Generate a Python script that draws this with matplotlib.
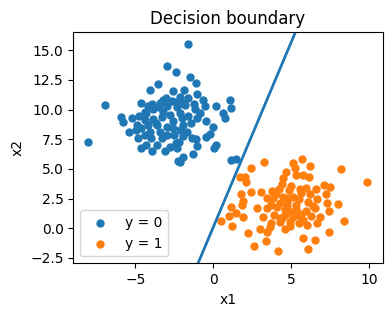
import numpy as np
import matplotlib
matplotlib.use('Agg')
import matplotlib.pyplot as plt

# class y = 0
x1_class0 = [-1.60, -2.95, -2.37, -1.48, -1.09, -3.53, -4.04, -2.57, -1.86, -1.07,
             -6.93, -4.62, -4.15, -3.25, -2.65, -2.14, -1.60, -0.64, -0.54, 0.17,
             1.09, 1.15, 0.62, 0.75, -5.92, -5.77, -5.19, -4.75, -4.30, -3.89,
             -3.46, -2.99, -2.35, -1.82, -1.18, -0.86, -3.85, -3.31, -2.78, -2.14,
             -1.60, -1.07, -0.49, 0.00, -5.39, -4.92, -4.62, -4.17, -3.63, -2.99,
             -2.57, -1.93, -2.14, -4.06, -3.42, -2.99, -2.52, -1.93, -4.81, -4.00,
             -1.39, -1.11, -0.47, -0.22, -8.01, -4.62, -4.32, -3.95, -3.10, -2.78,
             -2.40, -2.31, -1.07, 0.04, 0.21, -1.31, -1.93, -2.25, -2.10, 1.17,
             1.49, -3.63, -4.38, -3.42, -1.93, -3.20, -2.60, -4.40, -1.40, -3.00,
             -2.00, -3.70, -2.40, -4.90, -1.20, -3.90, -2.20, -3.30, -1.70, -4.40]
x2_class0 = [15.51, 13.68, 13.15, 12.73, 12.22, 12.17, 11.63, 11.58, 11.63, 11.32,
             10.37, 10.56, 10.31, 10.82, 10.76, 11.10, 10.96, 10.79, 10.28, 10.28,
             10.79, 10.14, 9.75, 9.27, 9.36, 8.93, 9.27, 9.47, 9.75, 10.03,
             10.20, 10.31, 10.20, 10.40, 10.03, 9.69, 9.19, 9.36, 9.55, 9.75,
             9.47, 9.27, 9.05, 8.57, 8.15, 8.29, 8.49, 8.71, 8.71, 8.57,
             8.43, 8.71, 8.29, 8.15, 8.15, 7.87, 7.87, 7.78, 7.59, 7.59,
             7.59, 7.50, 7.67, 7.95, 7.28, 6.80, 7.02, 6.55, 6.52, 6.88,
             7.16, 6.74, 6.94, 6.74, 7.02, 6.24, 6.04, 5.70, 5.62, 5.76,
             5.82, 7.02, 9.83, 10.54, 10.54, 9.80, 9.00, 9.10, 8.90, 11.00,
             9.30, 8.90, 10.60, 8.70, 10.50, 10.50, 7.30, 7.60, 8.10, 7.90]

# class y = 1
x1_class1 = [3.27, 2.42, 5.13, 5.71, 6.20, 5.24, 8.17, 9.87, 4.66, 5.34,
             5.77, 6.15, 1.71, 2.07, 2.10, 4.49, 4.38, 7.10, 7.48, 4.21,
             3.74, 3.04, 2.40, 1.80, 4.85, 5.56, 5.98, 6.58, 7.22, 1.88,
             1.82, 3.42, 3.85, 4.49, 5.13, 5.52, 6.09, 6.67, 7.27, 8.01,
             1.16, 1.45, 1.03, 0.47, 1.92, 1.22, 2.78, 3.42, 4.06, 4.74,
             5.34, 5.98, 6.52, 7.44, 3.21, 3.89, 4.60, 5.13, 5.60, 6.24,
             6.84, 8.38, 3.68, 4.28, 4.92, 5.47, 6.03, 6.67, 2.99, 3.63,
             4.60, 3.42, 2.20, 7.44, 5.77, 6.52, 2.63, 3.38, 6.09, 4.17,
             4.81, 4.28, 5.02, 5.77, 4.28, 4.60, 5.30, 4.90, 5.60, 4.00,
             6.20, 5.00, 4.40, 5.50, 3.70, 6.40, 4.70]
x2_class1 = [5.56, 5.06, 5.48, 5.84, 5.25, 5.06, 4.97, 3.88, 4.72, 4.50,
             4.50, 4.30, 4.35, 4.30, 3.88, 4.21, 3.74, 3.65, 3.45, 3.29,
             3.17, 3.03, 3.03, 2.86, 3.23, 3.29, 3.43, 3.29, 2.89, 2.33,
             1.96, 2.53, 2.53, 2.67, 2.67, 2.44, 2.25, 2.44, 2.16, 2.02,
             1.82, 1.32, 1.04, 0.62, 0.93, 0.22, 1.68, 1.68, 1.82, 1.88,
             1.60, 1.49, 1.68, 1.49, 0.98, 1.12, 1.12, 0.93, 1.20, 1.04,
             0.93, 0.64, 0.42, 0.56, 0.56, 0.42, 0.28, 0.47, -0.09, 0.08,
             -0.09, -0.34, -0.42, -0.34, -0.85, -0.99, -1.49, -1.04, -1.77, -1.91,
             2.53, 2.11, 1.40, 0.70, 0.84, 1.50, 2.00, 0.20, 3.00, 2.90,
             2.90, 3.60, 0.90, 1.10, 2.00, 1.90, 2.20]

# decision boundary x2 = slope * x1 + intercept
boundary_slope = 3.12
boundary_intercept = 0.08

fig = plt.figure(figsize=(3.92, 3.16), dpi=100)
ax = fig.add_axes([0.187, 0.167, 0.789, 0.731])

ax.scatter(x1_class0, x2_class0, s=25, label='y = 0')
ax.scatter(x1_class1, x2_class1, s=25, label='y = 1')

xs = np.linspace(-2, 7, 2)
ax.plot(xs, boundary_slope * xs + boundary_intercept, lw=2)

ax.set_xlim(-8.97, 10.86)
ax.set_ylim(-2.95, 16.52)
ax.set_title('Decision boundary')
ax.set_xlabel('x1')
ax.set_ylabel('x2')
ax.legend(loc='lower left')

fig.savefig('out.png', dpi=100)
